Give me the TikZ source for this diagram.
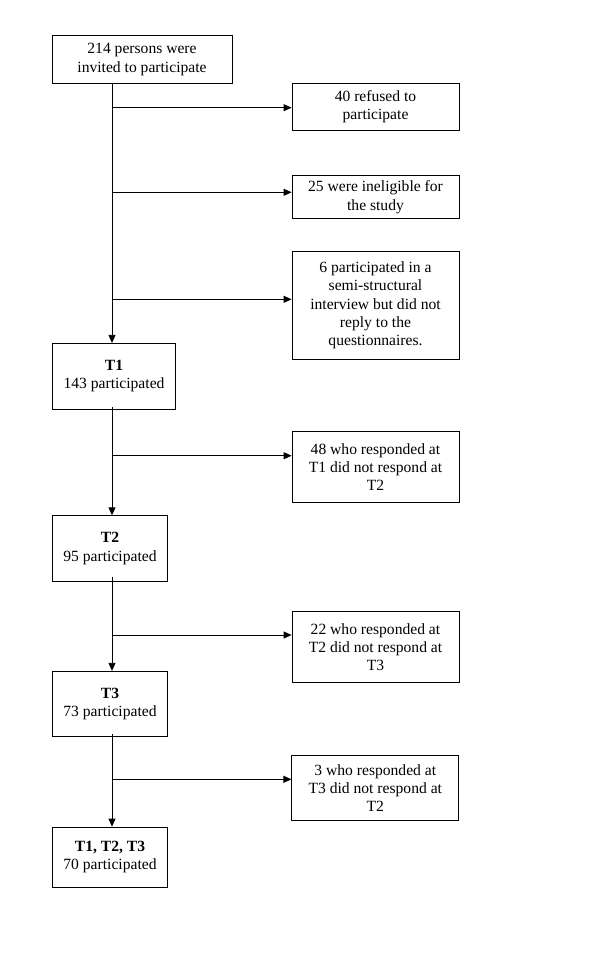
\documentclass[tikz,border=0pt]{standalone}
\usepackage{fontspec}
\setmainfont{Liberation Serif}
\usepackage{tikz}
\usetikzlibrary{arrows.meta}

\begin{document}
\begin{tikzpicture}[x=1pt,y=-1pt]
	\tikzstyle{box} = [draw=black, line width=0.8pt, align=center, inner sep=0pt,
		font=\fontsize{15.6}{18.3}\selectfont]
	\tikzstyle{side} = [box, minimum width=167pt]
	\tikzstyle{stage} = [box, minimum width=115.5pt, minimum height=65.5pt]
	\tikzstyle{arr} = [-{Triangle[length=8pt,width=7pt]}, line width=0.8pt]
	\tikzstyle{line} = [line width=0.8pt]

	\useasboundingbox (0,0) rectangle (600,961);

%----------Start------------------------------
	\node[box, minimum width=180pt, minimum height=47.5pt] (inv) at (142,59.5)
		{214 persons were\\invited to participate};

	\coordinate (b1) at (112,107.7);
	\coordinate (b2) at (112,192.3);
	\coordinate (b3) at (112,299.3);

	\node[side, minimum height=47.5pt] (refused) at (375.5,107) {40 refused to\\participate};
	\node[side, minimum height=43pt] (inelig) at (375.5,197.2) {25 were ineligible for\\the study};
	\node[side, minimum height=107.3pt] (semi) at (375.5,305.3)
		{6 participated in a\\semi-structural\\interview but did not\\reply to the\\questionnaires.};

	\node[box, minimum width=123.7pt, minimum height=66pt] (t1) at (114,376.3)
		{\textbf{T1}\\143 participated};

	\draw[arr] (b1 |- inv.south) -- (b1 |- t1.north);
	\draw[arr] (b1) -- (b1 -| refused.west);
	\draw[arr] (b2) -- (b2 -| inelig.west);
	\draw[arr] (b3) -- (b3 -| semi.west);

%----------T1 -> T2------------------------------
	\coordinate (b4) at (112,455.7);
	\node[side, minimum height=71pt] (drop2) at (375.5,467.2)
		{48 who responded at\\T1 did not respond at\\T2};
	\node[stage] (t2) at (110,548.5) {\textbf{T2}\\95 participated};

	\draw[arr] ([yshift=2.5pt]b4 |- t1.south) -- (b4 |- t2.north);
	\draw[arr] (b4) -- (b4 -| drop2.west);

%----------T2 -> T3------------------------------
	\coordinate (b5) at (112,635);
	\node[side, minimum height=70.6pt] (drop3) at (375.5,647)
		{22 who responded at\\T2 did not respond at\\T3};
	\node[stage] (t3) at (110,704) {\textbf{T3}\\73 participated};

	\draw[arr] ([yshift=5pt]b5 |- t2.south) -- (b5 |- t3.north);
	\draw[arr] (b5) -- (b5 -| drop3.west);

%----------T3 -> all------------------------------
	\coordinate (b6) at (112,779.3);
	\node[side, minimum height=65.7pt] (drop4) at (375.3,787.9)
		{3 who responded at\\T3 did not respond at\\T2};
	\node[stage, minimum height=60.3pt] (all) at (110,857.2)
		{\textbf{T1, T2, T3}\\70 participated};

	\draw[arr] ([yshift=3pt]b6 |- t3.south) -- (b6 |- all.north);
	\draw[arr] (b6) -- (b6 -| drop4.west);

\end{tikzpicture}
\end{document}
